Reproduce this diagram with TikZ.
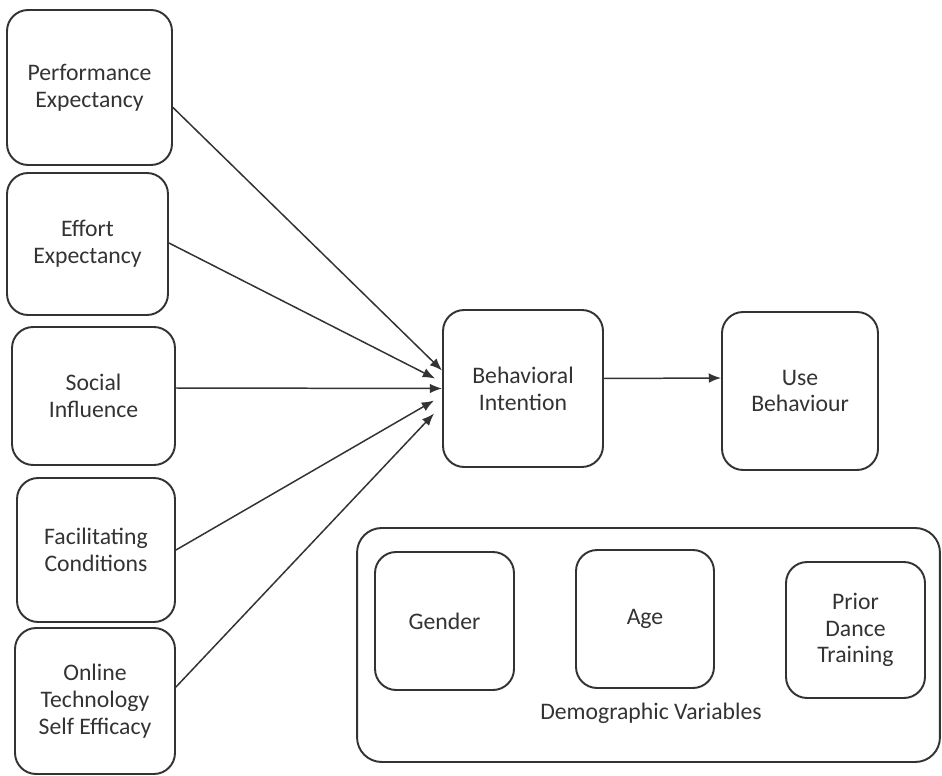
\documentclass[tikz,border=0pt]{standalone}
\usepackage{fontspec}
\setmainfont{Carlito}
\usetikzlibrary{arrows.meta,calc}
\definecolor{inkgray}{HTML}{333333}

\begin{document}
\begin{tikzpicture}[
  x=0.02cm, y=-0.02cm,
  font=\fontsize{13.5}{15.2}\selectfont,
  construct/.style={draw=inkgray, line width=1.1pt, rounded corners=12pt, align=center, text=inkgray, inner sep=0pt},
  group/.style={draw=inkgray, line width=1.1pt, rounded corners=14pt, inner sep=0pt},
  arrow/.style={-{Latex[length=7pt,width=5.5pt]}, draw=inkgray, line width=0.85pt}
]
\useasboundingbox (0,0) rectangle (942,776);
\node[construct, minimum width=3.30cm, minimum height=3.10cm] (pe) at (89.5,87.5) {Performance\\Expectancy};
\node[construct, minimum width=3.22cm, minimum height=2.84cm] (ee) at (87.5,244) {Effort\\Expectancy};
\node[construct, minimum width=3.26cm, minimum height=2.76cm] (si) at (93.5,396) {Social\\Influence};
\node[construct, minimum width=3.16cm, minimum height=2.88cm] (fc) at (96,550) {Facilitating\\Conditions};
\node[construct, minimum width=3.20cm, minimum height=2.92cm] (ot) at (95,701) {Online\\Technology\\Self Efficacy};

\node[construct, minimum width=3.20cm, minimum height=3.14cm] (bi) at (523,388.5) {Behavioral\\Intention};
\node[construct, minimum width=3.12cm, minimum height=3.16cm] (ub) at (800,391) {Use\\Behaviour};

\node[group, minimum width=11.66cm, minimum height=4.68cm] (demo) at (648.5,645) {};
\node[construct, minimum width=2.78cm, minimum height=2.76cm] (gender) at (444.5,621) {Gender};
\node[construct, minimum width=2.76cm, minimum height=2.76cm] (age) at (645,619) {Age};
\node[construct, minimum width=2.78cm, minimum height=2.72cm] (prior) at (855.5,630) {Prior\\Dance\\Training};
\node[text=inkgray] (demolab) at (651,713) {Demographic Variables};

\draw[arrow] ($(pe.east)+(0,20)$) -- ($(bi.west)+(0,-18)$);
\draw[arrow] ($(ee.east)+(0,-1)$) -- ($(bi.west)+(-7,-10)$);
\draw[arrow] ($(si.east)+(0,-8)$) -- ($(bi.west)+(0,0)$);
\draw[arrow] (fc.east) -- ($(bi.west)+(-8,12)$);
\draw[arrow] ($(ot.east)+(0,-14)$) -- ($(bi.west)+(-8,25)$);
\draw[arrow] ($(bi.east)+(0,-10)$) -- ($(ub.west)+(0,-13)$);
\end{tikzpicture}
\end{document}
